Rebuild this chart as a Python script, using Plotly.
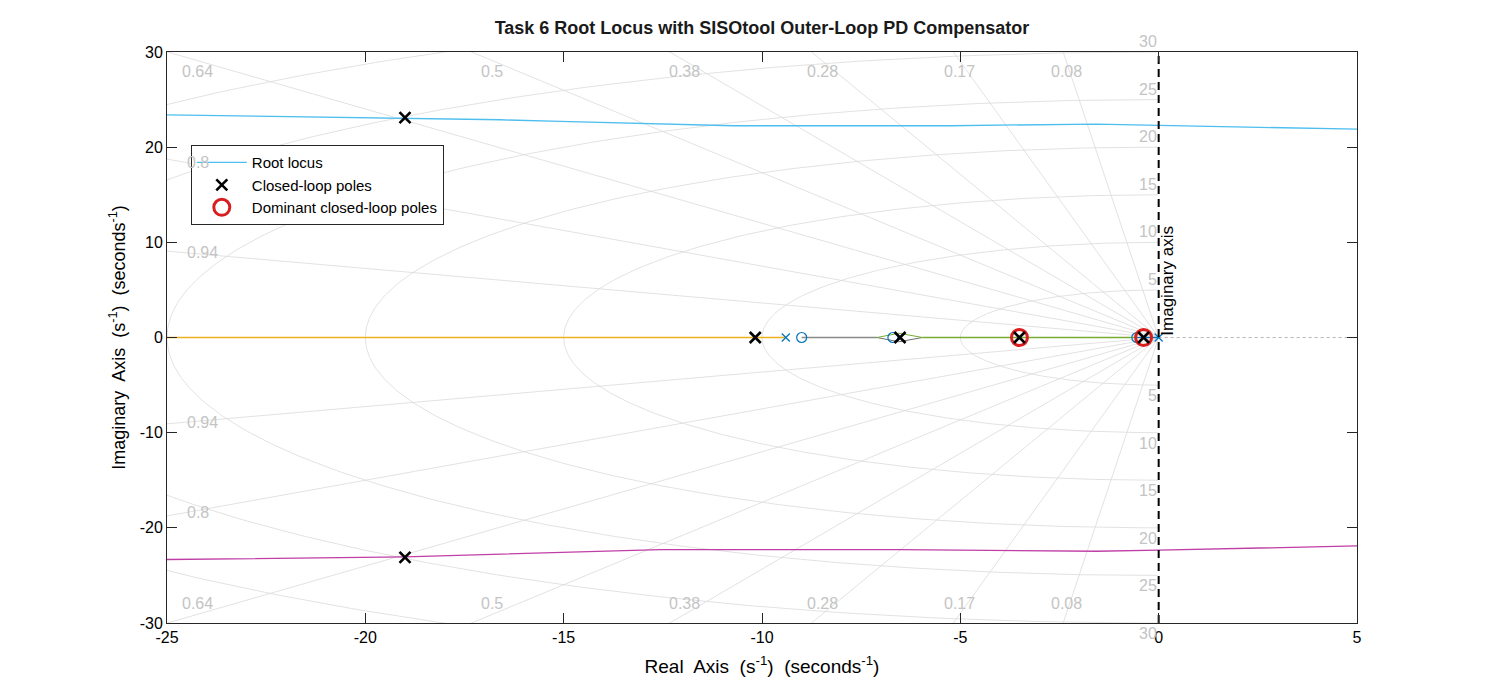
import numpy as np
import plotly.graph_objects as go

# s-grid values
zeta_vals = [0.08, 0.17, 0.28, 0.38, 0.5, 0.64, 0.8, 0.94]
wn_vals = [5, 10, 15, 20, 25, 30, 35]
wn_labels = [5, 10, 15, 20, 25, 30]

# root locus branches
upper_x = [-25.0, -19.0, -16.6, -15.09, -12.82, -10.73, -8.21, -5.26, -1.56, 0.0, 5.0]
upper_y = [23.40, 23.05, 22.88, 22.70, 22.43, 22.25, 22.25, 22.25, 22.43, 22.28, 21.90]
lower_x = [-25.0, -19.0, -12.57, -6.52, -1.56, 0.0, 5.0]
lower_y = [-23.33, -23.06, -22.28, -22.28, -22.46, -22.35, -21.90]

yellow_x = [-25.0, -9.4]
gray_x = [-9.0, -7.1]
green_x = [-5.95, -0.55]
blue_x = [-0.55, 0.0]
lens_x = [-7.1, -6.55, -5.95]
lens_y = [0.0, 0.45, 0.0]

# open-loop poles and zeros
ol_poles = [-9.4, 0.0]
ol_zeros = [-9.0, -6.7, -0.55]

# closed-loop poles
cl_re = [-19.0, -19.0, -10.17, -6.52, -3.51, -0.38]
cl_im = [23.1, -23.1, 0, 0, 0, 0]
dom_re = [-3.51, -0.38]
dom_im = [0, 0]

x_ticks = [-25, -20, -15, -10, -5, 0, 5]
y_ticks = [-30, -20, -10, 0, 10, 20, 30]

XMIN, XMAX, YMIN, YMAX = -25, 5, -30, 30
grid_col = "#dadada"
lab_col = "#c4c4c4"
FONT = "Liberation Sans, Arial, sans-serif"

fig = go.Figure()

# damping lines
dx, dy = [], []
R = 60
for z in zeta_vals:
    s = np.sqrt(1 - z * z)
    for sign in (1, -1):
        dx += [0.0, float(-R * z), None]
        dy += [0.0, float(sign * R * s), None]
fig.add_trace(go.Scatter(x=dx, y=dy, mode="lines", line=dict(color=grid_col, width=0.8),
                         hoverinfo="skip", showlegend=False))
# natural frequency semicircles
cx, cy = [], []
th = np.linspace(np.pi / 2 + 0.001, 3 * np.pi / 2 - 0.001, 300)
for w in wn_vals:
    cx += [float(v) for v in w * np.cos(th)] + [None]
    cy += [float(v) for v in w * np.sin(th)] + [None]
fig.add_trace(go.Scatter(x=cx, y=cy, mode="lines", line=dict(color=grid_col, width=0.8),
                         hoverinfo="skip", showlegend=False))

# complex branches
fig.add_trace(go.Scatter(x=lower_x, y=lower_y, mode="lines", line=dict(color="#C03FA6", width=1.3),
                         showlegend=False))
fig.add_trace(go.Scatter(x=upper_x, y=upper_y, mode="lines", line=dict(color="#4DBEEE", width=1.3),
                         name="Root locus", legendrank=1))

# real-axis branches
fig.add_trace(go.Scatter(x=yellow_x, y=[0.0, 0.0], mode="lines",
                         line=dict(color="#EDB120", width=1.5), showlegend=False))
fig.add_trace(go.Scatter(x=gray_x, y=[0.0, 0.0], mode="lines",
                         line=dict(color="#8a8a8a", width=1.3), showlegend=False))
fig.add_trace(go.Scatter(x=lens_x, y=[-v for v in lens_y], mode="lines",
                         line=dict(color="#6d6d6d", width=1), showlegend=False))
fig.add_trace(go.Scatter(x=lens_x, y=lens_y, mode="lines",
                         line=dict(color="#77AC30", width=1), showlegend=False))
fig.add_trace(go.Scatter(x=green_x, y=[0.0, 0.0], mode="lines",
                         line=dict(color="#77AC30", width=1.5), showlegend=False))
fig.add_trace(go.Scatter(x=blue_x, y=[0.0, 0.0], mode="lines",
                         line=dict(color="#0072BD", width=1.3), showlegend=False))

# open-loop markers
fig.add_trace(go.Scatter(x=ol_zeros, y=[0] * len(ol_zeros), mode="markers",
                         marker=dict(symbol="circle-open", size=10, color="#0072BD", line=dict(width=1.2)),
                         showlegend=False))
fig.add_trace(go.Scatter(x=ol_poles, y=[0] * len(ol_poles), mode="markers",
                         marker=dict(symbol="x-thin", size=8, line=dict(width=1.2, color="#0072BD")),
                         showlegend=False))

# closed-loop poles
fig.add_trace(go.Scatter(x=dom_re, y=dom_im, mode="markers", name="Dominant closed-loop poles",
                         marker=dict(symbol="circle-open", size=16, color="#D81E1E", line=dict(width=3)),
                         legendrank=3))
fig.add_trace(go.Scatter(x=cl_re, y=cl_im, mode="markers", name="Closed-loop poles",
                         marker=dict(symbol="x-thin", size=11, line=dict(width=2.6, color="black")),
                         legendrank=2))

# imaginary axis line
fig.add_trace(go.Scatter(x=[0, 0], y=[YMIN, YMAX], mode="lines",
                         line=dict(color="black", width=2, dash="8px,5px"),
                         hoverinfo="skip", showlegend=False))

# dotted real axis on the right half-plane
fig.add_shape(type="line", x0=0, x1=XMAX, y0=0, y1=0, layer="below",
              line=dict(color="#b5b5b5", width=1, dash="dot"))

ann = []
# damping labels
xin = 0.45
yin = 0.9
for z in zeta_vals:
    t = z / np.sqrt(1 - z * z)
    if YMAX * t <= -XMIN + 0.05:
        yy = YMAX - yin
        for sign in (1, -1):
            ann.append(dict(x=float(-yy * t), y=sign * yy, text=f"{z:g}", showarrow=False,
                            xanchor="center", yanchor="top" if sign > 0 else "bottom",
                            font=dict(color=lab_col, size=16, family=FONT)))
    else:
        xx = XMIN + xin
        for sign in (1, -1):
            ann.append(dict(x=xx, y=float(sign * (-xx) / t), text=f"{z:g}", showarrow=False,
                            xanchor="left", yanchor="middle",
                            font=dict(color=lab_col, size=16, family=FONT)))
# frequency labels
for w in wn_labels:
    for sign in (1, -1):
        ann.append(dict(x=0, y=sign * w, text=str(w), showarrow=False, xanchor="right",
                        yanchor="bottom" if sign > 0 else "top",
                        font=dict(color=lab_col, size=16, family=FONT)))

ann.append(dict(x=0, y=0, text="Imaginary axis", showarrow=False, textangle=-90,
                xanchor="left", yanchor="bottom", xshift=-3,
                font=dict(color="black", size=17, family=FONT)))

fig.update_layout(
    width=1500, height=700,
    margin=dict(l=159, r=151, t=44, b=85),
    paper_bgcolor="white", plot_bgcolor="white",
    font=dict(family=FONT, size=16, color="black"),
    title=dict(text="<b>Task 6 Root Locus with SISOtool Outer-Loop PD Compensator</b>",
               x=0.5, xref="paper", y=1 - 20 / 700, yref="container", yanchor="middle",
               font=dict(size=18, color="#1a1a1a")),
    annotations=ann,
    legend=dict(x=0.02, y=0.837, xanchor="left", yanchor="top", bgcolor="white",
                bordercolor="#262626", borderwidth=1, font=dict(size=15, family=FONT),
                tracegroupgap=0, itemwidth=50),
)
axis_common = dict(showgrid=False, zeroline=False, showline=True, mirror="ticks",
                   linecolor="#262626", linewidth=1, ticks="inside", ticklen=10,
                   tickcolor="#262626", tickfont=dict(size=16, family=FONT))
fig.update_xaxes(range=[XMIN, XMAX], tickvals=x_ticks, ticktext=[str(v) for v in x_ticks],
                 title=dict(text="Real  Axis  (s<sup>-1</sup>)  (seconds<sup>-1</sup>)",
                            font=dict(size=19), standoff=14), **axis_common)
fig.update_yaxes(range=[YMIN, YMAX], tickvals=y_ticks, ticktext=[str(v) for v in y_ticks],
                 title=dict(text="Imaginary  Axis  (s<sup>-1</sup>)  (seconds<sup>-1</sup>)",
                            font=dict(size=18), standoff=9), **axis_common)

fig.write_html("out.html")
